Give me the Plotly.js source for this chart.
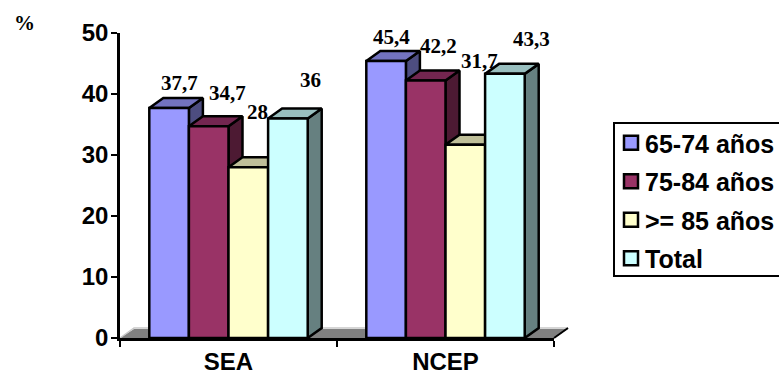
<!DOCTYPE html>
<html>
<head>
<meta charset="utf-8">
<script src="https://cdn.plot.ly/plotly-3.0.1.min.js"></script>
<style>html,body{margin:0;padding:0;background:#fff;overflow:hidden}</style>
</head>
<body>
<div id="chart" style="width:779px;height:374px"></div>
<script>
// Chart data
const groups = ['SEA', 'NCEP'];
const groupPos = [0.5, 1.5];
const seriesNames = ['65-74 años', '75-84 años', '>= 85 años', 'Total'];
const age65to74 = [37.7, 45.4];
const age75to84 = [34.7, 42.2];
const age85plus = [28, 31.7];
const total = [36, 43.3];
const allSeries = [age65to74, age75to84, age85plus, total];

// Fill colours per series: front, top and side faces of each column
const frontColors = ['#9999FF', '#993366', '#FFFFCC', '#CCFFFF'];
const topColors = ['#7373BF', '#732650', '#BFBF99', '#99BFBF'];
const sideColors = ['#4D4D80', '#4D1A33', '#808066', '#668080'];

// Hand-placed value labels: pixel offset from the top centre of each column
const labelShiftX = [[10, 19, 9, 23], [5, 13, 14, 27]];
const labelShiftY = [[25, 33, 55, 38], [24, 35, 84, 35]];

// Plot geometry
const W = 779, H = 374;
const L = 120, R = 554, T = 33, B = 338;
const DEPTH_PX_X = 14, DEPTH_PX_Y = 10;
const barWidth = 0.1825;
const xRange = [0, 2], yRange = [0, 50];
const depthX = DEPTH_PX_X * (xRange[1] - xRange[0]) / (R - L);
const depthY = DEPTH_PX_Y * (yRange[1] - yRange[0]) / (B - T);
const barLeft = (g, s) => groupPos[g] - 2 * barWidth + s * barWidth;

// Paper coordinates are relative to the plot area
const paperX = px => (px - L) / (R - L);
const paperY = py => (B - py) / (B - T);
const paperPath = pts => 'M' + pts.map(p => paperX(p[0]) + ',' + paperY(p[1])).join('L');

const traces = [];

// Top and side faces, painted left to right so nearer columns cover farther ones
groups.forEach((_, g) => {
  allSeries.forEach((vals, s) => {
    const x0 = barLeft(g, s), x1 = x0 + barWidth, v = vals[g];
    traces.push({
      x: [x1, x1 + depthX, x1 + depthX, x1, x1],
      y: [0, depthY, v + depthY, v, 0],
      mode: 'lines', fill: 'toself', fillcolor: sideColors[s],
      line: {color: '#000', width: 2.5},
      showlegend: false, hoverinfo: 'skip'
    });
    traces.push({
      x: [x0, x0 + depthX, x1 + depthX, x1, x0],
      y: [v, v + depthY, v + depthY, v, v],
      mode: 'lines', fill: 'toself', fillcolor: topColors[s],
      line: {color: '#000', width: 2.5},
      showlegend: false, hoverinfo: 'skip'
    });
  });
});

// Front faces sit on an overlaid subplot, above every top and side face
allSeries.forEach((vals, s) => {
  traces.push({
    type: 'bar', x: groupPos, y: vals, name: seriesNames[s],
    xaxis: 'x2', yaxis: 'y2', legendgroup: seriesNames[s],
    marker: {color: frontColors[s], line: {color: '#000', width: 2.5}},
    hovertemplate: '%{y}<extra>' + seriesNames[s] + '</extra>'
  });
});

const sansBold = {family: '"Liberation Sans", Arial, sans-serif', size: 24, weight: 700, color: '#000'};
const legendFont = Object.assign({}, sansBold, {size: 25});
const serifBold = {family: '"Liberation Serif", "Times New Roman", serif', size: 21, weight: 700, color: '#000'};

// Value labels, written with a decimal comma
const annotations = [];
groups.forEach((_, g) => {
  allSeries.forEach((vals, s) => {
    annotations.push({
      x: barLeft(g, s) + barWidth / 2, y: vals[g], xref: 'x', yref: 'y',
      text: String(vals[g]).replace('.', ','), showarrow: false, font: serifBold,
      xanchor: 'center', yanchor: 'middle',
      xshift: labelShiftX[g][s], yshift: labelShiftY[g][s]
    });
  });
});
annotations.push({
  x: paperX(24), y: paperY(23), xref: 'paper', yref: 'paper', text: '%',
  showarrow: false, font: serifBold, xanchor: 'center', yanchor: 'middle'
});

// Floor of the 3D box and the legend frame, which runs past the right edge of the page
const shapes = [
  {
    type: 'path', xref: 'paper', yref: 'paper', layer: 'below',
    path: paperPath([[L, B], [L + DEPTH_PX_X, B - DEPTH_PX_Y + 1], [R + DEPTH_PX_X, B - DEPTH_PX_Y + 1], [R, B]]) + 'Z',
    fillcolor: '#808080', line: {width: 0}
  },
  {
    type: 'path', xref: 'paper', yref: 'paper', layer: 'below',
    path: paperPath([[L, B], [L + DEPTH_PX_X, B - DEPTH_PX_Y], [R + DEPTH_PX_X, B - DEPTH_PX_Y]]),
    line: {color: '#C8C8C8', width: 1.5}
  },
  {
    type: 'path', xref: 'paper', yref: 'paper', layer: 'below',
    path: paperPath([[R, B], [R + DEPTH_PX_X, B - DEPTH_PX_Y]]),
    line: {color: '#000', width: 2}
  },
  {
    type: 'rect', xref: 'paper', yref: 'paper', layer: 'below',
    x0: paperX(614), x1: paperX(800), y0: paperY(276), y1: paperY(123),
    line: {color: '#000', width: 2}, fillcolor: '#fff'
  }
];

const layout = {
  width: W, height: H,
  paper_bgcolor: '#fff', plot_bgcolor: 'rgba(0,0,0,0)',
  margin: {l: L, r: W - R, t: T, b: H - B, pad: 0, autoexpand: false},
  barmode: 'group', bargap: 1 - 4 * barWidth, bargroupgap: 0,
  xaxis: {
    range: xRange, tickmode: 'array', tickvals: groupPos, ticktext: groups,
    ticks: '', showgrid: false, zeroline: false, showline: true,
    linecolor: '#000', linewidth: 2.5, tickfont: sansBold, ticklabelstandoff: 0,
    minor: {tickmode: 'array', tickvals: [0, 1, 2], ticks: 'outside', ticklen: 6, tickwidth: 2, tickcolor: '#000', showgrid: false}
  },
  yaxis: {
    range: yRange, tickmode: 'array', tickvals: [0, 10, 20, 30, 40, 50],
    ticks: 'outside', ticklen: 6, tickwidth: 2, tickcolor: '#000',
    showgrid: false, zeroline: false, showline: true,
    linecolor: '#000', linewidth: 2.5, tickfont: sansBold, ticklabelstandoff: -2
  },
  xaxis2: {overlaying: 'x', range: xRange, visible: false},
  yaxis2: {overlaying: 'y', range: yRange, visible: false},
  legend: {
    x: paperX(611), xanchor: 'left', y: paperY(120), yanchor: 'top',
    font: legendFont, borderwidth: 0, bgcolor: 'rgba(0,0,0,0)',
    traceorder: 'grouped', tracegroupgap: 3, itemclick: false, itemdoubleclick: false
  },
  annotations,
  shapes,
  hovermode: 'closest'
};

Plotly.newPlot('chart', traces, layout, {displayModeBar: false, responsive: false}).then(gd => {
  // Tighten the legend: larger swatches, text closer to them
  gd.querySelectorAll('.legend .legendtext').forEach(t => t.setAttribute('x', 34));
  gd.querySelectorAll('.legend .legendpoints path').forEach(p => p.setAttribute('d', 'M7,7H-7V-7H7Z'));
});
</script>
</body>
</html>
